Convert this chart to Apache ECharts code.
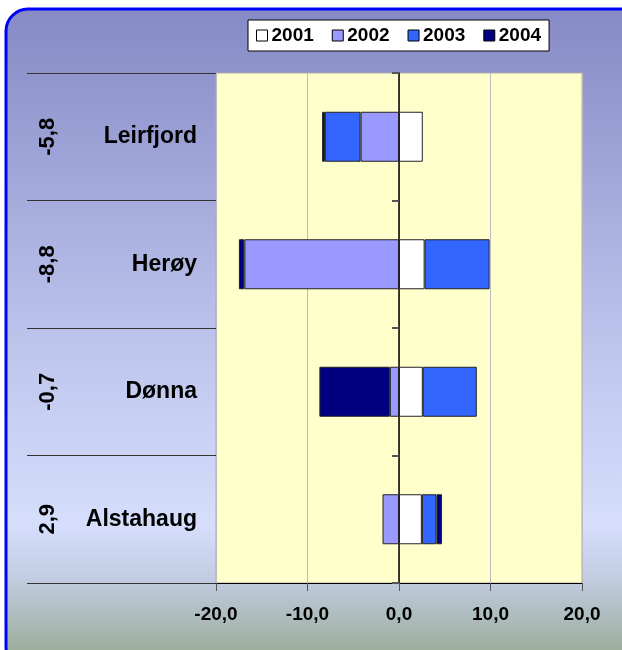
<!DOCTYPE html>
<html>
<head>
<meta charset="utf-8">
<script src="https://cdn.jsdelivr.net/npm/echarts@6/dist/echarts.min.js"></script>
<style>
  html, body { margin: 0; padding: 0; background: #ffffff; }
  #chart { width: 622px; height: 650px; }
</style>
</head>
<body>
<div id="chart"></div>
<script>
// kommuner, top to bottom
var kommuner = ['Leirfjord', 'Herøy', 'Dønna', 'Alstahaug'];
var summer = ['-5,8', '-8,8', '-0,7', '2,9'];
var years = ['2001', '2002', '2003', '2004'];
var v2001 = [2.6, 2.8, 2.6, 2.5];
var v2002 = [-4.2, -16.9, -1.0, -1.8];
var v2003 = [-3.9, 7.1, 5.9, 1.6];
var v2004 = [-0.3, -0.6, -7.7, 0.6];
var xTicks = [-20, -10, 0, 10, 20];

var colors = ['#FFFFFF', '#9999FF', '#3366FF', '#000080'];
var values = [v2001, v2002, v2003, v2004];

var chart = echarts.init(document.getElementById('chart'));

var series = years.map(function (y, i) {
  return {
    name: y,
    type: 'bar',
    stack: 'tot',
    barWidth: 50,
    itemStyle: { color: colors[i], borderColor: '#222', borderWidth: 1 },
    data: values[i]
  };
});

var font = 'Liberation Sans';

var option = {
  animation: false,
  graphic: [{
    type: 'rect',
    z: -10,
    shape: { x: 6, y: 9, width: 640, height: 660, r: 22 },
    style: {
      stroke: '#0000FF',
      lineWidth: 3,
      fill: new echarts.graphic.LinearGradient(0, 0, 0, 1, [
        { offset: 0, color: '#8589c5' },
        { offset: 0.5, color: '#bcc4ec' },
        { offset: 0.78, color: '#d6defc' },
        { offset: 0.86, color: '#c2cce2' },
        { offset: 1, color: '#92a68a' }
      ])
    }
  }],
  legend: {
    top: 20,
    left: 248,
    itemWidth: 11,
    itemHeight: 11,
    itemGap: 18,
    padding: [6, 8, 6, 8],
    backgroundColor: '#fff',
    borderColor: '#000',
    borderWidth: 1,
    borderRadius: 0,
    icon: 'rect',
    itemStyle: { borderColor: '#000', borderWidth: 1 },
    textStyle: { fontFamily: font, fontWeight: 'bold', fontSize: 19, color: '#000', padding: [0, 0, 0, -1] },
    data: years
  },
  grid: { left: 216, right: 40, top: 73, bottom: 67, show: true, backgroundColor: '#FFFFCC', borderColor: '#aaa', borderWidth: 1 },
  xAxis: {
    type: 'value',
    min: xTicks[0],
    max: xTicks[xTicks.length - 1],
    interval: 10,
    axisLine: { show: true, onZero: false, lineStyle: { color: '#000' } },
    axisTick: { show: true, length: 8, lineStyle: { color: '#555' } },
    splitLine: { show: true, lineStyle: { color: '#bbb' } },
    axisLabel: {
      margin: 22,
      fontFamily: font, fontWeight: 'bold', fontSize: 19, color: '#000',
      formatter: function (v) { return v.toFixed(1).replace('.', ','); }
    }
  },
  yAxis: [{
    type: 'category',
    inverse: true,
    data: kommuner,
    axisLine: { show: false, onZero: false },
    axisTick: { show: true, length: 189, lineStyle: { color: '#333' } },
    splitLine: { show: false },
    axisLabel: { margin: 19, fontFamily: font, fontWeight: 'bold', fontSize: 23, color: '#000' }
  }, {
    type: 'category',
    position: 'left',
    inverse: true,
    offset: 153,
    data: summer,
    axisLine: { show: false, onZero: false },
    axisTick: { show: false },
    axisLabel: { rotate: 90, margin: 4, fontFamily: font, fontWeight: 'bold', fontSize: 22, color: '#000' }
  }, {
    type: 'category',
    position: 'left',
    inverse: true,
    data: kommuner,
    axisLine: { show: true, onZero: true, lineStyle: { color: '#000', width: 1.5 } },
    axisTick: { show: true, length: 7, lineStyle: { color: '#555', width: 2 } },
    axisLabel: { show: false }
  }],
  series: series
};
chart.setOption(option);
</script>
</body>
</html>
